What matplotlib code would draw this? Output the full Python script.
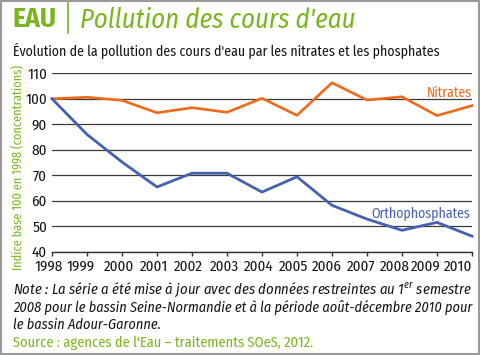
import matplotlib
matplotlib.use("Agg")
import matplotlib.pyplot as plt
from matplotlib import font_manager
from matplotlib.patches import Rectangle
from matplotlib.lines import Line2D
import matplotlib.transforms as mtransforms

years = [1998, 1999, 2000, 2001, 2002, 2003, 2004, 2005, 2006, 2007, 2008, 2009, 2010]
nitrates = [100, 100.6, 99.4, 94.5, 96.5, 94.7, 100.2, 93.5, 106.3, 99.5, 100.8, 93.4, 97.3]
orthophosphates = [100, 86.0, 75.2, 65.4, 70.8, 70.8, 63.4, 69.4, 58.2, 52.8, 48.4, 51.5, 46.1]
yticks = [40, 50, 60, 70, 80, 90, 100, 110]

GREEN = "#7ab51d"
ORANGE = "#ee6a1a"
BLUE = "#4660b0"
DARK = "#141414"

# pick a condensed family that has an italic face
faces = {}
for f in font_manager.fontManager.ttflist:
    faces.setdefault(f.name, set()).add(f.style)
cands = ["Fira Sans Condensed", "Roboto Condensed", "IBM Plex Sans Condensed", "Asap Condensed",
         "Encode Sans Condensed", "Sofia Sans Condensed", "Archivo Narrow", "PT Sans Narrow",
         "Liberation Sans Narrow", "Open Sans Condensed", "Liberation Sans"]
FAM = "DejaVu Sans"
for c in cands:
    if c in faces and "italic" in faces[c]:
        FAM = c
        break
plt.rcParams["font.family"] = [FAM, "DejaVu Sans"]
plt.rcParams["mathtext.fontset"] = "custom"
plt.rcParams["mathtext.rm"] = FAM
plt.rcParams["mathtext.it"] = FAM + ":italic"

W, H = 480, 355
fig = plt.figure(figsize=(W / 100, H / 100), dpi=100)
R = fig.canvas.get_renderer()


def px(x, y):
    return x / W, 1 - y / H


def fit(t, width):
    bb = t.get_window_extent(R)
    t.set_fontsize(t.get_fontsize() * width / bb.width)
    return t


# size for tick labels: "1998" should be about 28 px wide
probe = fig.text(0, 0, "1998", fontsize=10)
TICK_FS = 10 * 28 / probe.get_window_extent(R).width
probe.remove()

fig.patches.append(Rectangle((0.002, 0.003), 0.995, 0.994, transform=fig.transFigure,
                             fill=False, edgecolor="#9a9a9a", linewidth=1.5))

ax = fig.add_axes([52 / W, 1 - 251.7 / H, 420 / W, (251.7 - 73.3) / H])
ax.plot(years, nitrates, color=ORANGE, linewidth=1.9, zorder=3, clip_on=False)
ax.plot(years, orthophosphates, color=BLUE, linewidth=2.0, zorder=3, clip_on=False)
ax.set_xlim(1998, 2010)
ax.set_ylim(40, 110)
ax.set_yticks(yticks)
ax.set_xticks(years)
ax.set_xticklabels([str(y) for y in years])
for s in ["top", "right", "left"]:
    ax.spines[s].set_visible(False)
ax.spines["bottom"].set_color("#333333")
ax.spines["bottom"].set_linewidth(1.0)
ax.grid(axis="y", color="#3a3a3a", linewidth=0.9)
ax.set_axisbelow(True)
ax.tick_params(axis="y", length=0, labelsize=TICK_FS, pad=3.6, labelcolor=DARK)
ax.tick_params(axis="x", length=3, width=1, color="#333333", direction="out",
               labelsize=TICK_FS, pad=2.5, labelcolor=DARK)
# label offsets (px) relative to their ticks, as laid out in the reference
label_shift = [-3, -6, -3.5, -3.5, -3.5, -3, -3, -3.5, -5, -6, -7, -11, 0]
xl = ax.get_xticklabels()
for lab, dx in zip(xl, label_shift):
    lab.set_transform(lab.get_transform() +
                      mtransforms.ScaledTranslation(dx / 100, 0, fig.dpi_scale_trans))
xl[-1].set_horizontalalignment("right")

fit(ax.text(2010, 100.7, "Nitrates", color=ORANGE, fontsize=TICK_FS, ha="right", va="baseline"), 45)
fit(ax.text(2009.95, 53.3, "Orthophosphates", color=BLUE, fontsize=TICK_FS, ha="right",
            va="baseline"), 98)

yl = fig.text(*px(18.5, 167.5), "Indice base 100 en 1998 (concentrations)", rotation=90,
              color=GREEN, fontsize=9.5, ha="center", va="center")
bb = yl.get_window_extent(R)
yl.set_fontsize(yl.get_fontsize() * 205 / bb.height)

fit(fig.text(*px(13, 27), "EAU", color=GREEN, fontsize=20, fontweight="bold",
             ha="left", va="baseline"), 44)
fig.add_artist(Line2D([68 / W, 68 / W], [1 - 33 / H, 1 - 3 / H], transform=fig.transFigure,
                      color=GREEN, linewidth=1.2))
fit(fig.text(*px(80, 27.5), "Pollution des cours d'eau", color=GREEN, fontsize=20,
             style="italic", fontweight="normal", ha="left", va="baseline"), 275)
fit(fig.text(*px(13, 56.5), "Évolution de la pollution des cours d'eau par les nitrates et les phosphates",
             color=DARK, fontsize=10.5, ha="left", va="baseline"), 427)

l1 = fit(fig.text(*px(13, 294), "Note : La série a été mise à jour avec des données restreintes au 1$^{\\mathregular{er}}$ semestre",
                  color=DARK, fontsize=10.5, style="italic", ha="left", va="baseline"), 459)
l2 = fit(fig.text(*px(13, 311.5), "2008 pour le bassin Seine-Normandie et à la période août-décembre 2010 pour",
                  color=DARK, fontsize=10.5, style="italic", ha="left", va="baseline"), 459)
fs = min(l1.get_fontsize(), l2.get_fontsize())
fig.text(*px(13, 329), "le bassin Adour-Garonne.",
         color=DARK, fontsize=fs, style="italic", ha="left", va="baseline")
fit(fig.text(*px(13, 347), "Source : agences de l'Eau – traitements SOeS, 2012.", color=GREEN,
             fontsize=10.5, ha="left", va="baseline"), 300)

fig.savefig("out.png", dpi=100)
